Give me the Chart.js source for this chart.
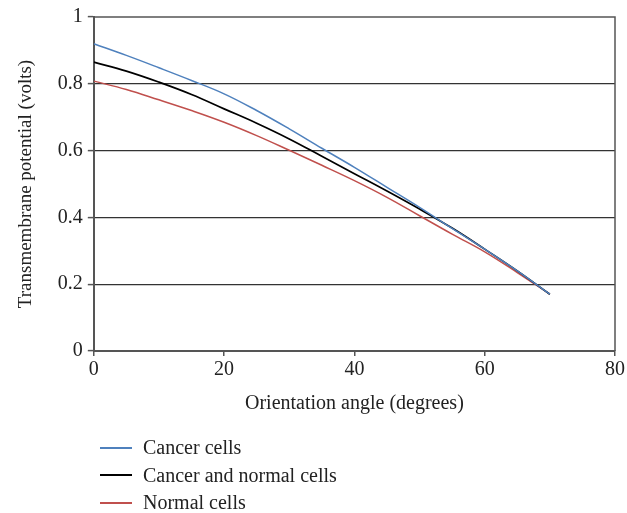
<!DOCTYPE html>
<html>
<head>
<meta charset="utf-8">
<script src="https://cdn.jsdelivr.net/npm/chart.js@4"></script>
<style>
  html, body { margin: 0; padding: 0; background: #fff; }
  #wrap { position: relative; width: 627px; height: 513px; }
  #legend {
    position: absolute; left: 100px; top: 434px;
    font-family: "Liberation Serif", "DejaVu Serif", serif; font-size: 20px; color: #222;
  }
  .leg-item { display: flex; align-items: center; height: 27.5px; }
  .leg-line { width: 32px; height: 0; margin-right: 11px; }
</style>
</head>
<body>
<div id="wrap">
  <canvas id="grafico" width="627" height="513"></canvas>
  <div id="legend"></div>
</div>
<script>
// ângulos (graus) e potenciais (volts) por curva
const angulos = [0, 5, 10, 15, 20, 25, 30, 35, 40, 45, 50, 55, 60, 65, 70];
const celulasCancer = [0.92, 0.885, 0.848, 0.81, 0.77, 0.72, 0.665, 0.607, 0.55, 0.49, 0.43, 0.367, 0.305, 0.24, 0.17];
const celulasMistas = [0.865, 0.838, 0.805, 0.768, 0.725, 0.682, 0.635, 0.583, 0.531, 0.479, 0.425, 0.368, 0.305, 0.24, 0.17];
const celulasNormais = [0.808, 0.783, 0.752, 0.72, 0.685, 0.645, 0.601, 0.556, 0.51, 0.46, 0.405, 0.35, 0.297, 0.235, 0.17];

const nomesSeries = ['Cancer cells', 'Cancer and normal cells', 'Normal cells'];
const coresSeries = ['#4f81bd', '#000000', '#c0504d'];
const ticksY = [0, 0.2, 0.4, 0.6, 0.8, 1];
const ticksX = [0, 20, 40, 60, 80];

const fonteSerif = "'Liberation Serif', 'DejaVu Serif', serif";

function pontos(valores) {
    return angulos.map((a, i) => ({ x: a, y: valores[i] }));
}

const series = [celulasCancer, celulasMistas, celulasNormais];

// moldura superior e direita da área do gráfico
const moldura = {
    id: 'moldura',
    afterDraw(chart) {
        const { ctx, chartArea: a } = chart;
        ctx.save();
        ctx.strokeStyle = '#555';
        ctx.lineWidth = 1.5;
        ctx.beginPath();
        ctx.moveTo(a.left, a.top);
        ctx.lineTo(a.right, a.top);
        ctx.lineTo(a.right, a.bottom);
        ctx.stroke();
        ctx.restore();
    }
};

const grafico = new Chart(document.getElementById('grafico'), {
    type: 'line',
    data: {
        datasets: series.map((s, i) => ({
            label: nomesSeries[i],
            data: pontos(s),
            borderColor: coresSeries[i],
            borderWidth: i === 1 ? 1.7 : 1.5,
            pointRadius: 0,
            tension: 0.4,
            fill: false
        }))
    },
    options: {
        responsive: false,
        animation: false,
        layout: { padding: { left: 11, right: 6, top: 1, bottom: 93 } },
        plugins: { legend: { display: false }, tooltip: { enabled: false } },
        scales: {
            x: {
                type: 'linear',
                min: 0, max: 80,
                afterBuildTicks: (axis) => { axis.ticks = ticksX.map(v => ({ value: v })); },
                grid: { drawOnChartArea: false, drawTicks: true, tickLength: 5, color: '#555', lineWidth: 1.5 },
                border: { color: '#555', width: 2 },
                ticks: { color: '#222', font: { family: fonteSerif, size: 20 }, padding: 2, maxRotation: 0 },
                title: { display: true, text: 'Orientation angle (degrees)', color: '#222', font: { family: fonteSerif, size: 20 }, padding: { top: 8 } }
            },
            y: {
                min: 0, max: 1,
                afterBuildTicks: (axis) => { axis.ticks = ticksY.map(v => ({ value: v })); },
                afterFit: (axis) => { axis.width += 6; },
                grid: {
                    color: (c) => (c.tick && (c.tick.value === 0 || c.tick.value === 1)) ? 'rgba(0,0,0,0)' : '#333',
                    lineWidth: 1.2,
                    drawTicks: true,
                    tickLength: 6,
                    tickColor: '#555',
                    tickWidth: 1.5
                },
                border: { color: '#555', width: 2 },
                ticks: {
                    color: '#222', font: { family: fonteSerif, size: 20 }, padding: 5,
                    callback: (v) => String(Math.round(v * 10) / 10)
                },
                title: { display: true, text: 'Transmembrane potential (volts)', color: '#222', font: { family: fonteSerif, size: 19 }, padding: { bottom: 9 } }
            }
        }
    },
    plugins: [moldura]
});

// legenda vertical em HTML
document.getElementById('legend').innerHTML = grafico.data.datasets.map(d => `
    <div class="leg-item">
        <span class="leg-line" style="border-top: 2px solid ${d.borderColor};"></span>
        <span>${d.label}</span>
    </div>
`).join('');
</script>
</body>
</html>
